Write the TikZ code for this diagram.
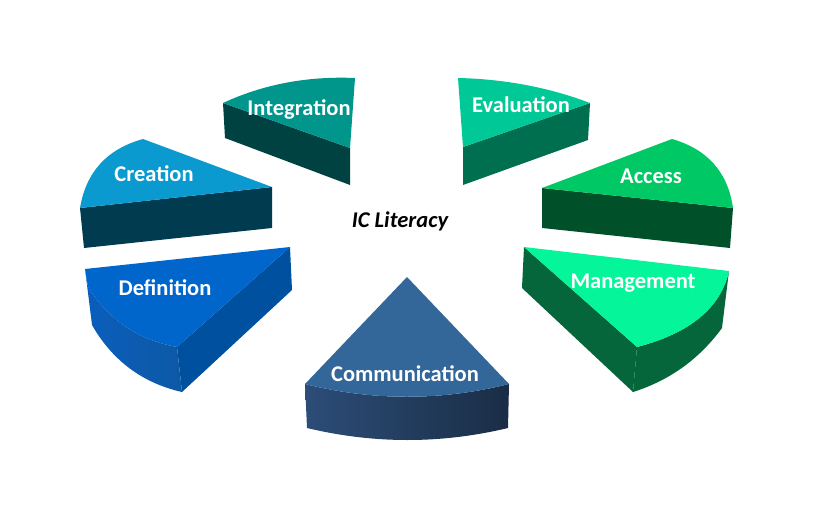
\documentclass[tikz,border=0pt]{standalone}
\usepackage{fontspec}
\setmainfont{Carlito}
\usetikzlibrary{positioning}

\definecolor{integtop}{HTML}{00968C}
\definecolor{integside}{HTML}{004242}
\definecolor{creattop}{HTML}{0B9ACF}
\definecolor{creatside}{HTML}{003B4F}
\definecolor{deftop}{HTML}{0066CC}
\definecolor{defouter}{HTML}{0A5EBC}
\definecolor{defradial}{HTML}{0050A0}
\definecolor{commtop}{HTML}{336699}
\definecolor{commleft}{HTML}{2C4D78}
\definecolor{commright}{HTML}{1A2D45}
\definecolor{mgmttop}{HTML}{05F59B}
\definecolor{mgmtside}{HTML}{04663A}
\definecolor{acctop}{HTML}{00C864}
\definecolor{accside}{HTML}{00502A}
\definecolor{evaltop}{HTML}{00C896}
\definecolor{evalside}{HTML}{006F50}

\begin{document}
\begin{tikzpicture}[x=1pt, y=-1pt,
    slicetext/.style={text=white, font=\bfseries\fontsize{22.5}{26}\selectfont, inner sep=0pt},
    centretext/.style={text=black, font=\bfseries\itshape\fontsize{22.5}{26}\selectfont, inner sep=0pt}]
  \useasboundingbox (0,0) rectangle (814,508);

  \fill[integside] (223,103) -- (350,148) -- (350,185) -- (225,138) -- cycle;
  \fill[integtop] (223,103) .. controls (264,84) and (308,76) .. (355,78) -- (350,148) -- cycle;

  \fill[evalside] (463,147) -- (590,103) -- (588,140) -- (463,185) -- cycle;
  \fill[evaltop] (458,78) .. controls (503,79) and (548,87) .. (590,103) -- (463,147) -- cycle;

  \fill[creatside] (80,208) -- (272,187) -- (272,228) -- (84,248) -- cycle;
  \fill[creattop] (80,208) .. controls (86,172) and (107,149) .. (143,139) -- (272,187) -- cycle;

  \fill[accside] (542,188) -- (733,208) -- (730,248) -- (542,228) -- cycle;
  \fill[acctop] (542,188) -- (672,139) .. controls (707,149) and (728,172) .. (733,208) -- cycle;

  \fill[defradial] (290,247) -- (177,347) -- (182,392) -- (292,290) -- cycle;
  \shade[left color=defouter, right color=defradial!95!white] (85,269) -- (88,287) .. controls (109,320) and (138,340) .. (177,347)
    -- (182,392) .. controls (142,383) and (112,360) .. (92,325) -- cycle;
  \fill[deftop] (85,269) -- (290,247) -- (177,347) .. controls (138,340) and (109,320) .. (88,287) -- cycle;

  \shade[left color=commleft, right color=commright] (305,384) .. controls (373,401) and (441,401) .. (509,384)
    -- (508,428) .. controls (441,444) and (374,444) .. (307,428) -- cycle;
  \fill[commtop] (407,277) -- (305,384) .. controls (373,401) and (441,401) .. (509,384) -- cycle;

  \fill[mgmtside] (524,247) -- (637,347) -- (633,392) -- (522,288) -- cycle;
  \fill[mgmtside] (729,271) .. controls (721,307) and (691,333) .. (637,347)
    -- (633,392) .. controls (671,380) and (700,358) .. (722,328) -- cycle;
  \fill[mgmttop] (524,247) -- (729,271) .. controls (721,307) and (691,333) .. (637,347) -- cycle;

  \node[slicetext] (integration) at (299,109) {Integration};
  \node[slicetext] (evaluation) at (521,105) {Evaluation};
  \node[slicetext] (creation) at (154,174) {Creation};
  \node[slicetext] (access) at (651,176) {Access};
  \node[slicetext] (definition) at (165,288) {Definition};
  \node[slicetext] (management) at (633,283) {Management};
  \node[slicetext] (communication) at (405,374) {Communication};
  \node[centretext] (icliteracy) at (400,221) {IC Literacy};
\end{tikzpicture}
\end{document}
